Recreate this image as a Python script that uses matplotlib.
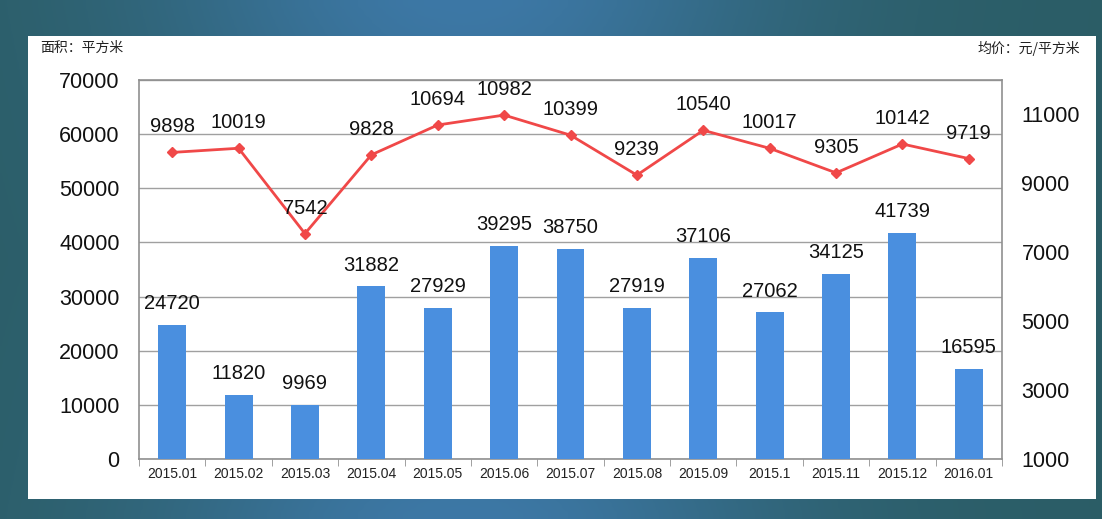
import numpy as np
import matplotlib
matplotlib.use("Agg")
import matplotlib.pyplot as plt
from matplotlib.patches import Rectangle

# -----------------------------
# Data
# -----------------------------
months = ["2015.01", "2015.02", "2015.03", "2015.04", "2015.05", "2015.06", "2015.07",
          "2015.08", "2015.09", "2015.1", "2015.11", "2015.12", "2016.01"]
area = [24720, 11820, 9969, 31882, 27929, 39295, 38750, 27919, 37106, 27062, 34125, 41739, 16595]
price = [9898, 10019, 7542, 9828, 10694, 10982, 10399, 9239, 10540, 10017, 9305, 10142, 9719]

left_title = "面积：平方米"
right_title = "均价：元/平方米"

BAR_COLOR = "#4a8fdf"
LINE_COLOR = "#f04848"
NUM_FONT = ["Liberation Sans", "DejaVu Sans"]
CJK_FONT = ["Noto Sans CJK SC", "DejaVu Sans"]

W, H = 1102, 519
fig = plt.figure(figsize=(W / 100, H / 100), dpi=100)

# background gradient (teal edges, bluer middle)
bg = fig.add_axes([0, 0, 1, 1], zorder=-10)
xs = np.linspace(0, 1, 400)
ys = np.linspace(0, 1, 60)
X, Y = np.meshgrid(xs, ys)
t = np.exp(-((X - 0.42) / 0.28) ** 2) * (0.55 + 0.45 * np.abs(Y - 0.5) * 2)
c_dark = np.array([0x2b, 0x5d, 0x66]) / 255
c_blue = np.array([0x3d, 0x78, 0xa6]) / 255
img = c_dark[None, None, :] * (1 - t[..., None]) + c_blue[None, None, :] * t[..., None]
bg.imshow(img, extent=[0, 1, 0, 1], aspect="auto")
bg.add_patch(Rectangle((28 / W, 1 - 499 / H), (1096 - 28) / W, (499 - 36) / H,
                       facecolor="white", edgecolor="none"))
bg.set_xlim(0, 1)
bg.set_ylim(0, 1)
bg.axis("off")

# main axes
ax = fig.add_axes([139 / W, 1 - 459 / H, (1002 - 139) / W, (459 - 80) / H])
ax.set_facecolor("none")
x = np.arange(len(months))
ax.bar(x, area, width=0.42, color=BAR_COLOR, zorder=3)
ax.set_ylim(0, 70000)
ax.set_yticks(np.arange(0, 70001, 10000))
ax.set_xlim(-0.5, len(months) - 0.5)
ax.grid(axis="y", color="#a0a0a0", linewidth=1, zorder=0)
ax.set_xticks(x)
ax.set_xticklabels(months, fontfamily=NUM_FONT, fontsize=10, color="#222222")
ax.set_xticks(np.arange(-0.5, len(months), 1), minor=True)
ax.tick_params(axis="x", which="major", length=0, pad=6)
ax.tick_params(axis="x", which="minor", length=5, color="#909090")
ax.tick_params(axis="y", length=0, pad=14, labelsize=15.5, labelcolor="#111111")
for lab in ax.get_yticklabels():
    lab.set_fontfamily(NUM_FONT)
for s in ax.spines.values():
    s.set_color("#909090")
    s.set_linewidth(1.2)

for xi, v in zip(x, area):
    ax.annotate(str(v), (xi, v), xytext=(0, 8.5), textcoords="offset points",
                ha="center", va="bottom", fontsize=14.5, fontfamily=NUM_FONT,
                color="#111111", zorder=5)

# secondary axis for price
ax2 = ax.twinx()
ax2.plot(x, price, color=LINE_COLOR, linewidth=2, marker="D", markersize=5,
         markerfacecolor=LINE_COLOR, markeredgecolor=LINE_COLOR, zorder=4)
ax2.set_ylim(1000, 12000)
ax2.set_yticks(np.arange(1000, 11001, 2000))
ax2.tick_params(axis="y", length=0, pad=14, labelsize=15.5, labelcolor="#111111")
for lab in ax2.get_yticklabels():
    lab.set_fontfamily(NUM_FONT)
for s in ax2.spines.values():
    s.set_visible(False)

for xi, v in zip(x, price):
    ax2.annotate(str(v), (xi, v), xytext=(0, 11.5), textcoords="offset points",
                 ha="center", va="bottom", fontsize=14.5, fontfamily=NUM_FONT,
                 color="#111111", zorder=5)

fig.text(40 / W, 1 - 48 / H, left_title, fontsize=10, fontfamily=CJK_FONT,
         color="#222222", ha="left", va="center")
fig.text(1080 / W, 1 - 48 / H, right_title, fontsize=10, fontfamily=CJK_FONT,
         color="#222222", ha="right", va="center")

fig.savefig("out.png", dpi=100)
